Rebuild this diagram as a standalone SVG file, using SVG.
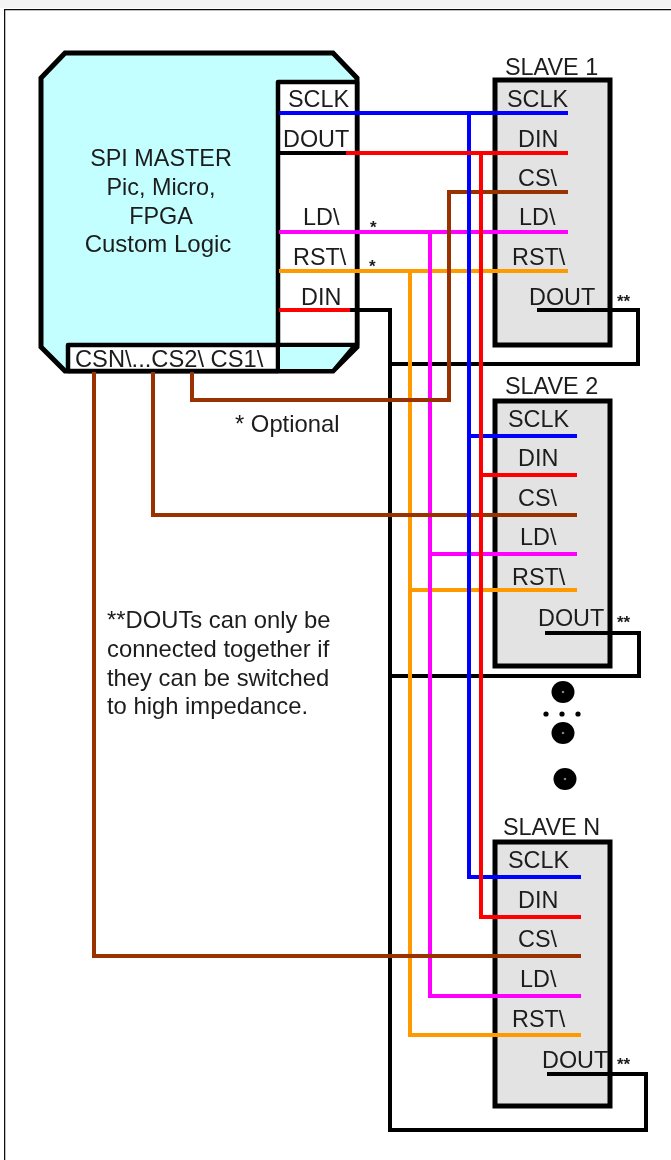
<svg xmlns="http://www.w3.org/2000/svg" width="671" height="1160" viewBox="0 0 671 1160">
<style>
text{font-family:"Liberation Sans",Arial,sans-serif;font-size:23.4px;fill:#1c1c1c}
.c{text-anchor:middle}
.n{font-size:23.8px}
.s{font-size:17px;font-weight:bold}
.w{fill:none;stroke-width:4}
.b{stroke:#0000ff}.r{stroke:#ff0000}.m{stroke:#ff00ff}.o{stroke:#ff9900}.h{stroke:#993300}.k{stroke:#000}
.box{fill:#e3e3e3;stroke:#000;stroke-width:5}
</style>
<defs><filter id="soft" x="0" y="0" width="100%" height="100%"><feGaussianBlur stdDeviation="0.7"/></filter></defs>
<rect width="671" height="1160" fill="#fff"/>
<rect width="671" height="8" fill="#f4f4f4"/>
<g filter="url(#soft)">
<path d="M4 1165V9H680" fill="none" stroke="#111" stroke-width="2.5"/>
<g id="master">
<path d="M65 53H333L357 78V347L333 371H65L41 347V78Z" fill="#c4ffff" stroke="#000" stroke-width="5"/>
<path d="M278 345V82H357V345Z" fill="#fff" stroke="#000" stroke-width="4.5" stroke-linejoin="round"/>
<path d="M68 371V345H278V371Z" fill="#fff" stroke="#000" stroke-width="4.5" stroke-linejoin="round"/>
<path d="M278 345H355L333 371H278Z" fill="#c4ffff" stroke="#000" stroke-width="4" stroke-linejoin="round"/>
<text class="c" x="161" y="166">SPI MASTER</text>
<text class="c" x="161" y="195">Pic, Micro,</text>
<text class="c" x="161" y="224">FPGA</text>
<text class="c" x="158" y="252" style="font-size:24px">Custom Logic</text>
<text x="288" y="107">SCLK</text>
<text x="283" y="147">DOUT</text>
<text x="303" y="225">LD\</text>
<text x="293" y="265">RST\</text>
<text x="301" y="305">DIN</text>
<text x="75" y="367" style="font-size:23.7px">CSN\...CS2\ CS1\</text>
<path d="M279 153H346" class="w k"/>
</g>
<g id="slave1">
<rect class="box" x="495" y="80" width="115" height="265"/>
<text x="505" y="75">SLAVE 1</text>
<text x="507" y="107">SCLK</text>
<text x="518" y="147">DIN</text>
<text x="518" y="186">CS\</text>
<text x="519" y="225">LD\</text>
<text x="512" y="265">RST\</text>
<text x="529" y="305">DOUT</text>
<text class="s" x="617" y="307">**</text>
</g>
<g id="slave2">
<rect class="box" x="495" y="401" width="115" height="265"/>
<text x="505" y="394">SLAVE 2</text>
<text x="508" y="427">SCLK</text>
<text x="518" y="466">DIN</text>
<text x="518" y="506">CS\</text>
<text x="520" y="545">LD\</text>
<text x="512" y="585">RST\</text>
<text x="538" y="626">DOUT</text>
<text class="s" x="617" y="628">**</text>
</g>
<g id="slaveN">
<rect class="box" x="495" y="842" width="115" height="264"/>
<text x="503" y="835">SLAVE N</text>
<text x="508" y="868">SCLK</text>
<text x="518" y="908">DIN</text>
<text x="518" y="947">CS\</text>
<text x="520" y="987">LD\</text>
<text x="512" y="1027">RST\</text>
<text x="542" y="1068">DOUT</text>
<text class="s" x="617" y="1070">**</text>
</g>
<g id="connectors">
<path class="w k" d="M350 310H390V1130H646V1074H547"/>
<path class="w k" d="M390 364H638V310H537"/>
<path class="w k" d="M390 676H639V633H545"/>
<path class="w o" d="M279 271H568M410 271V1035H581M410 590H577"/>
<path class="w m" d="M279 232H568M430 232V996H581M430 554H577"/>
<path class="w h" d="M192 372V400H449V192H568"/>
<path class="w h" d="M153 372V515H577"/>
<path class="w h" d="M94 372V956H581"/>
<path class="w b" d="M279 113H568M469 113V877H581M469 436H577"/>
<path class="w r" d="M346 153H568M481 153V917H581M481 475H577"/>
<path class="w r" d="M279 310H350"/>
</g>
<g id="notes">
<text x="370" y="233" class="s">*</text>
<text x="369" y="272" class="s">*</text>
<text x="235" y="432" class="n">* Optional</text>
<text x="107" y="628" class="n">**DOUTs can only be</text>
<text x="107" y="657" class="n">connected together if</text>
<text x="107" y="686" class="n">they can be switched</text>
<text x="107" y="714" class="n">to high impedance.</text>
</g>
<g id="dots" fill="#000">
<ellipse cx="563" cy="692" rx="11.5" ry="11"/>
<ellipse cx="563" cy="733" rx="11.5" ry="11"/>
<ellipse cx="565" cy="779" rx="11.5" ry="11"/>
<circle cx="546" cy="714" r="2.6"/><circle cx="562" cy="714" r="2.6"/><circle cx="578" cy="714" r="2.6"/>
<g fill="#888"><circle cx="563" cy="692" r="1.2"/><circle cx="563" cy="733" r="1.2"/><circle cx="565" cy="779" r="1.2"/></g>
</g>
</g>
</svg>
